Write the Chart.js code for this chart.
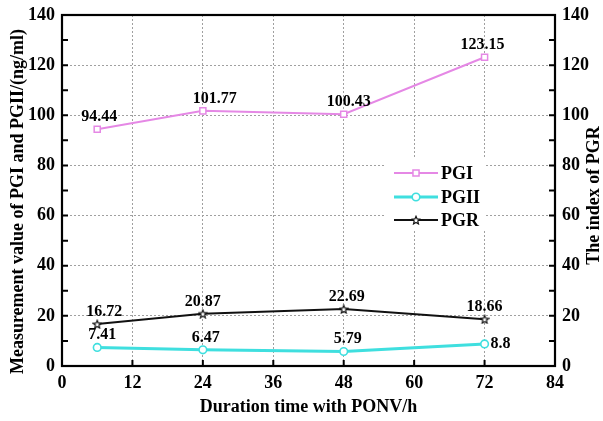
<!DOCTYPE html>
<html>
<head>
<meta charset="utf-8">
<script src="https://cdn.jsdelivr.net/npm/chart.js@4.4.1/dist/chart.umd.min.js"></script>
<style>
  html, body { margin: 0; padding: 0; background: #fff; }
  #wrap { width: 603px; height: 421px; }
</style>
</head>
<body>
<div id="wrap"><canvas id="chart-pg"></canvas></div>
<script>
var hours = [6, 24, 48, 72];
var pgiValues = [94.44, 101.77, 100.43, 123.15];
var pgiiValues = [7.41, 6.47, 5.79, 8.8];
var pgrValues = [16.72, 20.87, 22.69, 18.66];
var xTicks = [0, 12, 24, 36, 48, 60, 72, 84];
var yTicks = [0, 20, 40, 60, 80, 100, 120, 140];

var serif = "'Liberation Serif', 'Times New Roman', serif";
Chart.defaults.font.family = serif;
Chart.defaults.font.weight = "bold";
Chart.defaults.color = "#000";

function toPoints(values) {
  return hours.map(function (h, i) { return { x: h, y: values[i] }; });
}

// hollow five-pointed star for the PGR series
function starImage(size, color) {
  var c = document.createElement("canvas");
  c.width = size;
  c.height = size;
  var g = c.getContext("2d");
  var cx = size / 2, cy = size / 2 + 0.5, ro = size / 2 - 0.8, ri = ro * 0.45;
  g.beginPath();
  for (var k = 0; k < 10; k++) {
    var r = k % 2 ? ri : ro;
    var a = -Math.PI / 2 + k * Math.PI / 5;
    g.lineTo(cx + r * Math.cos(a), cy + r * Math.sin(a));
  }
  g.closePath();
  g.fillStyle = "#fff";
  g.fill();
  g.strokeStyle = color;
  g.lineWidth = 1.2;
  g.stroke();
  return c;
}

var framePlugin = {
  id: "frame",
  afterDatasetsDraw: function (chart) {
    var ctx = chart.ctx;
    ctx.save();
    ctx.font = "bold 16px " + serif;
    ctx.fillStyle = "#000";
    chart.data.datasets.forEach(function (ds, i) {
      var meta = chart.getDatasetMeta(i);
      meta.data.forEach(function (pt, j) {
        var text = String(ds.data[j].y);
        var dx = ds.labelDx ? ds.labelDx[j] : 0;
        if (ds.labelRight && ds.labelRight.indexOf(j) >= 0) {
          ctx.textAlign = "left";
          ctx.textBaseline = "middle";
          ctx.fillText(text, pt.x + 6, pt.y);
        } else {
          ctx.textAlign = "center";
          ctx.textBaseline = "alphabetic";
          ctx.fillText(text, pt.x + dx, pt.y - 8);
        }
      });
    });
    ctx.restore();
  },
  afterDraw: function (chart) {
    var ctx = chart.ctx;
    var a = chart.chartArea;
    var xs = chart.scales.x, ys = chart.scales.y;
    var midY = (a.top + a.bottom) / 2;
    ctx.save();

    // inward tick marks
    ctx.strokeStyle = "#000";
    ctx.lineWidth = 2;
    ctx.beginPath();
    for (var v = 0; v <= 140; v += 10) {
      var py = ys.getPixelForValue(v);
      ctx.moveTo(a.left, py); ctx.lineTo(a.left + 6, py);
      ctx.moveTo(a.right, py); ctx.lineTo(a.right - 6, py);
    }
    xTicks.forEach(function (t) {
      var px = xs.getPixelForValue(t);
      ctx.moveTo(px, a.bottom); ctx.lineTo(px, a.bottom - 6);
    });
    ctx.stroke();

    // plot frame
    ctx.lineWidth = 2.2;
    ctx.strokeRect(a.left, a.top, a.right - a.left, a.bottom - a.top);

    // legend box inside the plot
    var lx = Math.round(xs.getPixelForValue(54.8));
    var ly = Math.round(ys.getPixelForValue(83.5));
    ctx.fillStyle = "#fff";
    ctx.fillRect(lx, ly, 102, 73);
    chart.data.datasets.forEach(function (ds, i) {
      var ry = Math.round(ly + 16 + i * 23.5);
      ctx.strokeStyle = ds.borderColor;
      ctx.lineWidth = ds.borderWidth;
      ctx.beginPath();
      ctx.moveTo(lx + 10, ry);
      ctx.lineTo(lx + 54, ry);
      ctx.stroke();
      ctx.fillStyle = "#fff";
      ctx.strokeStyle = ds.borderColor;
      ctx.lineWidth = ds.pointBorderWidth || 1.5;
      Chart.helpers.drawPoint(ctx, {
        pointStyle: ds.pointStyle, radius: ds.pointRadius, rotation: 0,
        borderWidth: ds.pointBorderWidth || 1.5
      }, lx + 32, ry);
    });
    ctx.font = "bold 18px " + serif;
    ctx.textAlign = "left";
    ctx.textBaseline = "middle";
    ctx.fillStyle = "#000";
    chart.data.datasets.forEach(function (ds, i) {
      var ry = Math.round(ly + 16 + i * 23.5);
      ctx.fillText(ds.label, lx + 57, ry + 1);
    });

    // axis titles for both value axes
    ctx.textAlign = "center";
    ctx.save();
    ctx.translate(18, midY + 11);
    ctx.rotate(-Math.PI / 2);
    ctx.fillText("Measurement value of PGI and PGII/(ng/ml)", 0, 0);
    ctx.restore();

    ctx.translate(594, midY + 5);
    ctx.rotate(-Math.PI / 2);
    ctx.fillText("The index of PGR", 0, 0);
    ctx.restore();
  }
};

var dottedGrid = {
  color: "#a0a0a0",
  lineWidth: 1,
  drawTicks: false
};

new Chart("chart-pg", {
  type: "line",
  data: {
    datasets: [
      {
        label: "PGI",
        data: toPoints(pgiValues),
        borderColor: "#e588e5",
        borderWidth: 2,
        pointStyle: "rect",
        pointRadius: 4.3,
        pointBorderWidth: 1.5,
        pointBackgroundColor: "#fff",
        labelDx: [2, 12, 5, -2],
        yAxisID: "y"
      },
      {
        label: "PGII",
        data: toPoints(pgiiValues),
        borderColor: "#3fdfdf",
        borderWidth: 3,
        pointStyle: "circle",
        pointRadius: 3.8,
        pointBorderWidth: 1.6,
        pointBackgroundColor: "#fff",
        labelDx: [5, 3, 4, 0],
        labelRight: [3],
        yAxisID: "y"
      },
      {
        label: "PGR",
        data: toPoints(pgrValues),
        borderColor: "#111",
        borderWidth: 2,
        pointStyle: starImage(10, "#111"),
        pointRadius: 5,
        pointBackgroundColor: "#fff",
        labelDx: [7, 0, 3, 0],
        yAxisID: "y1"
      }
    ]
  },
  options: {
    responsive: true,
    maintainAspectRatio: false,
    animation: false,
    layout: { padding: { top: 15, left: 0, right: 0, bottom: 0 } },
    plugins: {
      legend: { display: false },
      tooltip: { enabled: false }
    },
    scales: {
      x: {
        type: "linear",
        min: 0,
        max: 84,
        afterBuildTicks: function (s) { s.ticks = xTicks.map(function (v) { return { value: v }; }); },
        afterFit: function (s) { s.height = 55; s.paddingLeft = 0; s.paddingRight = 0; },
        grid: dottedGrid,
        border: { display: false, dash: [2, 2] },
        ticks: { font: { size: 18 }, padding: 7, maxRotation: 0 },
        title: {
          display: true,
          text: "Duration time with PONV/h",
          font: { size: 18 },
          padding: { top: 0, bottom: 3 }
        }
      },
      y: {
        position: "left",
        min: 0,
        max: 140,
        afterBuildTicks: function (s) { s.ticks = yTicks.map(function (v) { return { value: v }; }); },
        afterFit: function (s) { s.width = 62; s.paddingTop = 0; s.paddingBottom = 0; },
        grid: dottedGrid,
        border: { display: false, dash: [2, 2] },
        ticks: { font: { size: 18 }, padding: 7 }
      },
      y1: {
        position: "right",
        min: 0,
        max: 140,
        afterBuildTicks: function (s) { s.ticks = yTicks.map(function (v) { return { value: v }; }); },
        afterFit: function (s) { s.width = 48; s.paddingTop = 0; s.paddingBottom = 0; },
        grid: { display: false, drawTicks: false },
        border: { display: false },
        ticks: { font: { size: 18 }, padding: 7 }
      }
    }
  },
  plugins: [framePlugin]
});
</script>
</body>
</html>
